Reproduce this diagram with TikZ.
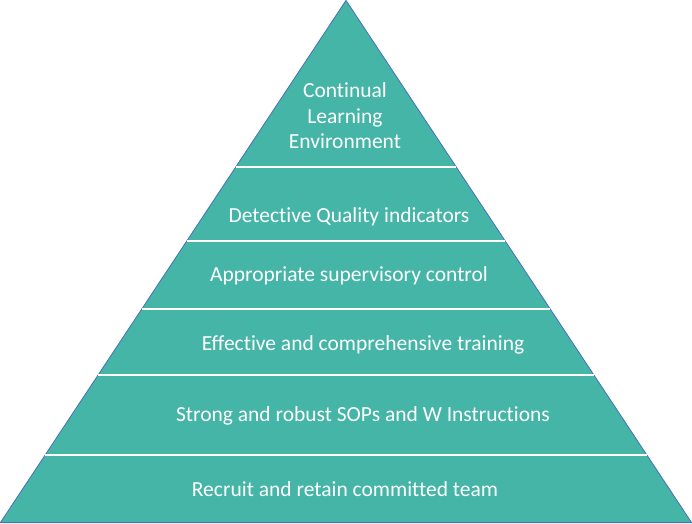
\documentclass[tikz,border=0pt]{standalone}
\usepackage{fontspec}
\setmainfont[Ligatures={NoCommon}]{Carlito}
\usetikzlibrary{calc}
\definecolor{tealfill}{RGB}{69,181,168}
\definecolor{edgeblue}{RGB}{72,112,180}

\begin{document}
\begin{tikzpicture}[
  x=1pt, y=1pt,
  every node/.style={text=white, font=\fontsize{21.5}{25.5}\selectfont, align=center, inner sep=0pt},
  pyramid/.style={fill=tealfill, draw=edgeblue, line width=0.8pt, line join=miter},
  sep/.style={draw=white, line width=2pt}
]
  \useasboundingbox (0,0) rectangle (692,523);
  \coordinate (bl) at (0.4,0.4);
  \coordinate (br) at (691.6,0.4);
  \coordinate (apex) at (346,522.6);

  \draw[pyramid] (bl) -- (br) -- (apex) -- cycle;

  % layer boundaries
  \foreach \f in {0.130,0.283,0.409,0.539,0.681}
    \draw[sep] ($(bl)!\f!(apex)$) -- ($(br)!\f!(apex)$);

  \node (learn) at (345,407) {Continual\\Learning\\Environment};
  \node (quality) at (349,306.5) {Detective Quality indicators};
  \node (superv) at (349,247.5) {Appropriate supervisory control};
  \node (train) at (363,178.5) {Effective and comprehensive training};
  \node (sops) at (363,107.5) {Strong and robust SOPs and W Instructions};
  \node (team) at (345,33.5) {Recruit and retain committed team};
\end{tikzpicture}
\end{document}
